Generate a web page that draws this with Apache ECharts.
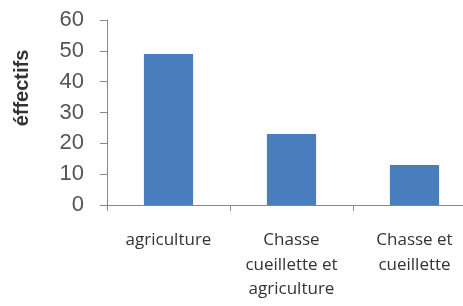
<!DOCTYPE html>
<html><head><meta charset="utf-8">
<script src="https://cdn.jsdelivr.net/npm/echarts@6/dist/echarts.min.js"></script>
<style>html,body{margin:0;padding:0;background:#fff}#c{width:463px;height:306px}</style>
</head><body><div id="c"></div>
<script>
const categories = ['agriculture', 'Chasse\ncueillette et\nagriculture', 'Chasse et\ncueillette'];
const values = [49, 23, 13];
const yTicks = {min: 0, max: 60, interval: 10};
const yName = 'éffectifs';

const chart = echarts.init(document.getElementById('c'));
chart.setOption({
  animation: false,
  grid: {left: 107, width: 369, top: 20, bottom: 101, outerBoundsMode: 'none', containLabel: false},
  xAxis: {
    type: 'category', data: categories,
    axisLine: {lineStyle: {color: '#888', width: 1}},
    axisTick: {show: true, length: 6, lineStyle: {color: '#888'}},
    axisLabel: {margin: 23, fontFamily: 'Open Sans', fontSize: 17, color: '#333', lineHeight: 24.5, interval: 0}
  },
  yAxis: {
    type: 'value', min: yTicks.min, max: yTicks.max, interval: yTicks.interval,
    axisLine: {show: true, lineStyle: {color: '#888'}},
    axisTick: {show: true, length: 7, lineStyle: {color: '#888'}},
    splitLine: {show: false},
    axisLabel: {margin: 23, fontFamily: 'Liberation Sans', fontSize: 22, color: '#555'}
  },
  graphic: [{
    type: 'text', x: 22, y: 88, rotation: Math.PI / 2,
    style: {text: yName, font: 'bold 20px "Liberation Sans"', fill: '#333', textAlign: 'center', textVerticalAlign: 'middle'}
  }],
  series: [{
    type: 'bar', data: values, barWidth: '40%',
    itemStyle: {color: '#4a7dbd'}
  }]
});
</script></body></html>
